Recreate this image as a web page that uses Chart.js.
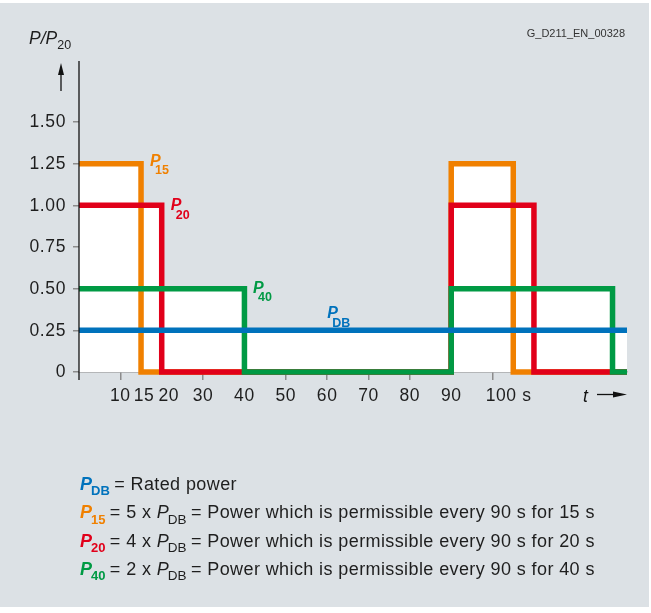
<!DOCTYPE html>
<html><head><meta charset="utf-8">
<script src="https://cdn.jsdelivr.net/npm/chart.js@4"></script>
<style>
html,body{margin:0;padding:0;background:#fff;}
canvas{display:block}
</style></head><body>
<canvas id="c" width="651" height="613"></canvas>
<script>
// ---- data ----
const timesP15 = [0, 15, 90, 105, 132.5];
const valuesP15 = [1.25, 0, 1.25, 0, 0];
const timesP20 = [0, 20, 90, 110, 132.5];
const valuesP20 = [1.0, 0, 1.0, 0, 0];
const timesP40 = [0, 40, 90, 129, 132.5];
const valuesP40 = [0.5, 0, 0.5, 0, 0];
const timesPDB = [0, 132.5];
const valuesPDB = [0.25, 0.25];
const xTicks = [10, 15, 20, 30, 40, 50, 60, 70, 80, 90, 100];
const xTickLabels = ['10', '15', '20', '30', '40', '50', '60', '70', '80', '90', '100 s'];
const yTicks = [0, 0.25, 0.5, 0.75, 1.0, 1.25, 1.5];
const yTickLabels = ['0', '0.25', '0.50', '0.75', '1.00', '1.25', '1.50'];

const C = {orange:'#f08000', red:'#e1001a', green:'#009a44', blue:'#0072bc', text:'#1e1e1e', grey:'#8c8c8c', bg:'#dce1e5'};
const FONT = '"Liberation Sans", Arial, sans-serif';

function pts(xs, ys){ return xs.map((x,i)=>({x:x, y:ys[i]})); }
function ds(label, xs, ys, color){
  return {label, data: pts(xs, ys), borderColor: color, backgroundColor: '#ffffff',
    borderWidth: 5.5, fill: 'origin', stepped: 'before', pointRadius: 0,
    borderJoinStyle: 'miter', borderCapStyle: 'butt',
    clip: {left: 0, top: 6, right: 0, bottom: 6}};
}

const hiddenTickMarks = [15, 20, 40, 90];
const xLabelShift = {15: 3, 20: 7, 100: 16};

function runs(ctx, x, y, parts){
  for (const p of parts){
    ctx.font = p.f; ctx.fillStyle = p.c;
    ctx.letterSpacing = (p.ls || 0) + 'px';
    ctx.fillText(p.t, x + (p.dx||0), y + (p.dy||0));
    x += ctx.measureText(p.t).width + (p.dx||0);
  }
  ctx.letterSpacing = '0px';
}

const decor = {
  id: 'decor',
  beforeDraw(chart){
    const ctx = chart.ctx;
    ctx.save();
    ctx.fillStyle = '#ffffff'; ctx.fillRect(0,0,651,613);
    ctx.fillStyle = C.bg; ctx.fillRect(0,3,649,604);
    ctx.restore();
  },
  afterDraw(chart){
    const ctx = chart.ctx, xs = chart.scales.x, ys = chart.scales.y, ca = chart.chartArea;
    ctx.save();
    // y axis line
    ctx.strokeStyle = '#111'; ctx.lineWidth = 1.3;
    ctx.beginPath(); ctx.moveTo(ca.left, ca.top); ctx.lineTo(ca.left, ys.getPixelForValue(0) + 8); ctx.stroke();
    // tick labels
    ctx.font = '17.5px ' + FONT; ctx.fillStyle = C.text; ctx.textBaseline = 'middle';
    ctx.letterSpacing = '0.6px';
    ctx.textAlign = 'center';
    xTicks.forEach((v,i)=>{
      ctx.fillText(xTickLabels[i], xs.getPixelForValue(v) + (xLabelShift[v]||0), 396);
    });
    ctx.textAlign = 'right';
    yTicks.forEach((v,i)=>{
      ctx.fillText(yTickLabels[i], ca.left - 13, ys.getPixelForValue(v) + 0.5);
    });
    ctx.letterSpacing = '0px';
    // series labels
    ctx.textAlign = 'left'; ctx.textBaseline = 'alphabetic';
    const lab = (tx, ty, dx, dy, sub, col) => {
      const px = xs.getPixelForValue(tx) + dx, py = ys.getPixelForValue(ty) + dy;
      ctx.fillStyle = col;
      ctx.font = 'italic bold 16px ' + FONT; ctx.fillText('P', px, py);
      ctx.font = 'bold 12.5px ' + FONT; ctx.fillText(sub, px + 5, py + 8.5);
    };
    lab(15, 1.25, 9, 2, '15', C.orange);
    lab(20, 1.0, 9, 5, '20', C.red);
    lab(40, 0.5, 8.5, 4, '40', C.green);
    lab(60, 0.25, 0, -12, 'DB', C.blue);
    // header
    runs(ctx, 29, 44, [{t:'P/P', f:'italic 17.5px '+FONT, c:C.text}, {t:'20', f:'12.5px '+FONT, c:C.text, dy:5}]);
    ctx.font = '11px ' + FONT; ctx.textAlign = 'right'; ctx.fillStyle = '#333';
    ctx.fillText('G_D211_EN_00328', 625, 37);
    ctx.textAlign = 'left';
    // up arrow
    ctx.strokeStyle = '#111'; ctx.fillStyle = '#111'; ctx.lineWidth = 1.3;
    ctx.beginPath(); ctx.moveTo(61, 91); ctx.lineTo(61, 72); ctx.stroke();
    ctx.beginPath(); ctx.moveTo(61, 63); ctx.lineTo(64, 75); ctx.lineTo(58, 75); ctx.closePath(); ctx.fill();
    // t arrow
    ctx.font = 'italic 17.5px ' + FONT; ctx.fillText('t', 583, 402);
    ctx.beginPath(); ctx.moveTo(597, 394.5); ctx.lineTo(614, 394.5); ctx.stroke();
    ctx.beginPath(); ctx.moveTo(627, 394.5); ctx.lineTo(613, 391.5); ctx.lineTo(613, 397.5); ctx.closePath(); ctx.fill();
    // legend
    const R = '18px ' + FONT, I = 'italic 18px ' + FONT, BI = 'italic bold 18px ' + FONT, B = 'bold 13px ' + FONT, S = '13.5px ' + FONT;
    const LS = 0.4;
    const L = 80;
    runs(ctx, L, 489.5, [{t:'P', f:BI, c:C.blue}, {t:'DB', f:B, c:C.blue, dy:5.5, dx:-1}, {t:' = Rated power', f:R, c:C.text, ls:LS, dx:-1}]);
    const rows = [[C.orange,'15','5','15',518],[C.red,'20','4','20',546.5],[C.green,'40','2','40',574.5]];
    rows.forEach(r=>{
      runs(ctx, L, r[4], [{t:'P', f:BI, c:r[0]}, {t:r[1], f:B, c:r[0], dy:5.5, dx:-1},
        {t:' = '+r[2]+' x ', f:R, c:C.text, ls:LS, dx:-1}, {t:'P', f:I, c:C.text}, {t:'DB', f:S, c:C.text, dy:5.5, dx:-1},
        {t:' = Power which is permissible every 90 s for '+r[3]+' s', f:R, c:C.text, ls:LS, dx:-1}]);
    });
    ctx.restore();
  }
};

new Chart(document.getElementById('c'), {
  type: 'line',
  data: { datasets: [
    ds('PDB', timesPDB, valuesPDB, C.blue),
    ds('P40', timesP40, valuesP40, C.green),
    ds('P20', timesP20, valuesP20, C.red),
    ds('P15', timesP15, valuesP15, C.orange)
  ]},
  options: {
    responsive: false, animation: false, devicePixelRatio: 1,
    layout: {padding: {top: 61, right: 24, left: 0, bottom: 0}},
    plugins: {legend: {display: false}, tooltip: {enabled: false}, filler: {drawTime: 'beforeDatasetsDraw'}},
    scales: {
      x: { type: 'linear', min: 0, max: 132.5,
        afterBuildTicks: s => { s.ticks = xTicks.map(v=>({value:v})); },
        afterFit: s => { s.height = 241; },
        ticks: {display: false},
        grid: {drawOnChartArea: false, drawTicks: true, tickLength: 8, lineWidth: 1.5,
          color: c => (c.tick && hiddenTickMarks.includes(c.tick.value)) ? 'rgba(0,0,0,0)' : C.grey},
        border: {display: true, color: C.grey, width: 1.5}
      },
      y: { type: 'linear', min: 0, max: 1.866,
        afterBuildTicks: s => { s.ticks = yTicks.map(v=>({value:v})); },
        afterFit: s => { s.width = 79; },
        ticks: {display: false},
        grid: {drawOnChartArea: false, drawTicks: true, tickLength: 6, lineWidth: 1.5, color: C.grey},
        border: {display: false}
      }
    }
  },
  plugins: [decor]
});
</script>
</body></html>
